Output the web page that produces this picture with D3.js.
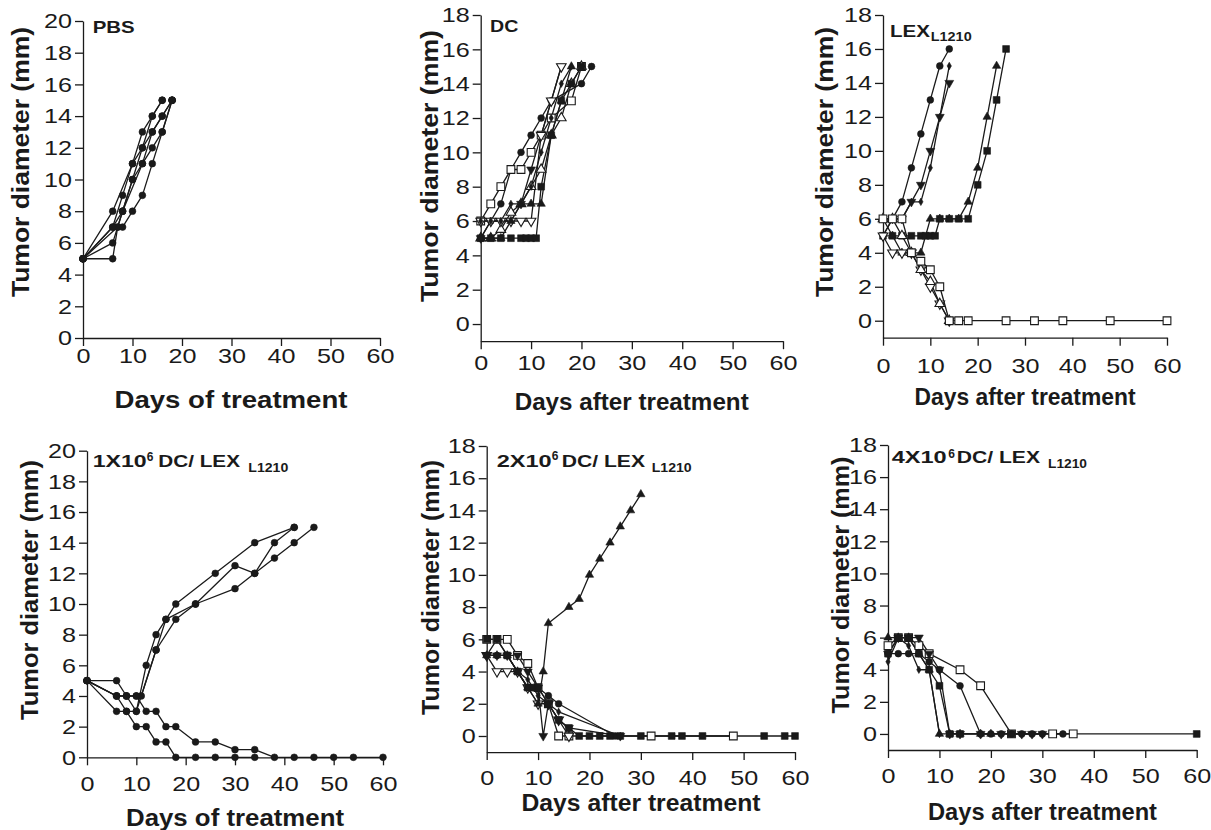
<!DOCTYPE html>
<html>
<head>
<meta charset="utf-8">
<script src="https://cdn.jsdelivr.net/npm/d3@7"></script>
<style>
  body { margin: 0; background: #fff; }
  svg { display: block; }
</style>
</head>
<body>
<svg id="chart" width="1211" height="830"></svg>
<script>
// ---- data: [day, tumor diameter mm] per mouse ----
const DAY_TICKS = [0, 10, 20, 30, 40, 50, 60];
const Y_TICKS_20 = [0, 2, 4, 6, 8, 10, 12, 14, 16, 18, 20];
const Y_TICKS_18 = [0, 2, 4, 6, 8, 10, 12, 14, 16, 18];

// PBS
const PBS_A = [[0,5],[6,8],[10,11],[12,13],[14,14],[16,15]];
const PBS_B = [[0,5],[6,7],[8,9],[10,11],[12,12],[14,14],[16,15]];
const PBS_C = [[0,5],[6,6],[8,8],[10,10],[12,12],[14,13],[16,14],[18,15]];
const PBS_D = [[0,5],[6,5],[7,7],[8,8],[12,11],[14,13],[16,14],[18,15]];
const PBS_E = [[0,5],[7,7],[8,7],[10,8],[12,9],[14,11],[16,13],[18,15]];
const PBS_F = [[0,5],[6,7],[8,8],[10,10],[12,11],[14,12],[16,13],[18,15]];

// DC
const DC_A = [[0,5],[2,6],[4,7],[6,9],[8,10],[10,11],[12,12],[14,13],[20,14],[22,15]];
const DC_B = [[0,6],[2,7],[4,8],[6,9],[8,9],[10,10],[12,11],[14,12],[18,13],[20,15]];
const DC_C = [[0,5],[2,6],[4,6],[6,6],[8,7],[10,9],[12,11],[14,13],[16,15]];
const DC_D = [[0,5],[2,5],[4,5.5],[6,6.5],[8,7],[10,8],[12,9],[14,11],[16,12],[18,14],[20,15]];
const DC_E = [[0,6],[2,6],[4,6],[6,6],[8,6],[10,6],[12,11],[14,13],[16,15]];
const DC_F = [[0,5],[2,5],[4,5],[6,5],[8,5],[9,5],[10,5],[11,5],[12,8],[14,11],[16,13],[18,14],[20,15]];
const DC_G = [[0,5],[2,5],[4,5],[6,6],[8,7],[10,7],[12,7],[14,11],[16,13],[18,15]];
const DC_H = [[0,6],[2,6],[4,6],[6,7],[8,7],[10,8],[12,10],[14,12],[16,14],[18,15]];

// LEX L1210
const LEX_A = [[0,6],[2,6],[4,7],[6,9],[8,11],[10,13],[12,15],[14,16]];
const LEX_B = [[0,5],[2,6],[4,6],[6,7],[8,7],[10,9],[12,12],[14,15]];
const LEX_C = [[0,5],[2,6],[4,6],[6,7],[8,8],[10,10],[12,12],[14,14]];
const LEX_D = [[0,5],[2,5],[4,5],[6,5],[8,5],[9,5],[10,5],[11,5],[12,6],[14,6],[16,6],[18,6],[20,8],[22,10],[24,13],[26,16]];
const LEX_E = [[0,6],[2,5],[4,4],[6,4],[8,4],[10,6],[12,6],[14,6],[16,6],[18,7],[20,9],[22,12],[24,15]];
const LEX_F = [[0,6],[2,6],[4,6],[6,4],[8,3.5],[10,3],[12,2],[14,0],[16,0],[18,0],[26,0],[32,0],[38,0],[48,0],[60,0]];
const LEX_G = [[0,5],[2,4],[4,4],[6,4],[8,3],[10,2],[12,1],[14,0]];
const LEX_H = [[0,6],[2,6],[4,5],[6,4],[8,3],[10,2.3],[12,1],[14,0]];

// 1X10^6 DC/LEX
const M1_G1 = [[0,5],[6,3],[8,3],[10,3],[12,6],[14,8],[16,9],[18,10],[26,12],[34,14],[42,15]];
const M1_G2 = [[0,5],[6,4],[8,4],[10,4],[11,4],[14,7],[16,9],[22,10],[30,12.5],[34,12],[38,14],[42,15]];
const M1_G3 = [[0,5],[6,4],[8,4],[10,3],[14,7],[18,9],[22,10],[30,11],[34,12],[38,13],[42,14],[46,15]];
const M1_D1 = [[0,5],[6,5],[8,4],[10,4],[12,3],[14,3],[16,2],[18,2],[22,1],[26,1],[30,0.5],[34,0.5],[38,0],[42,0],[46,0],[50,0],[54,0],[60,0]];
const M1_D2 = [[0,5],[6,4],[8,3],[10,2],[12,2],[14,1],[16,1],[18,0],[22,0],[26,0],[30,0],[34,0]];

// 2X10^6 DC/LEX
const M2_A = [[0,6],[2,6],[4,6],[6,5],[8,4.5],[10,3],[12,2],[14,0],[16,0],[32,0],[48,0]];
const M2_B = [[0,6],[2,6],[4,5],[6,4],[8,3],[9,3],[10,3],[12,2],[14,1],[16,0.5],[18,0],[20,0],[22,0],[24,0],[26,0],[30,0],[36,0],[38,0],[42,0],[54,0],[58,0],[60,0]];
const M2_C = [[0,5],[2,5],[4,5],[6,4],[8,3],[10,3],[12,2.5],[14,2],[25,0]];
const M2_D = [[0,5],[2,4],[4,4],[6,4],[8,3],[10,2],[12,2],[14,1],[16,0]];
const M2_E = [[0,5],[2,5],[4,5],[6,5],[8,4],[10,3],[11,0],[12,2],[14,1],[16,0.5],[26,0]];
const M2_F = [[0,5],[2,5],[4,5],[6,4],[8,3],[10,2],[11,4],[12,7],[16,8],[18,8.5],[20,10],[22,11],[24,12],[26,13],[28,14],[30,15]];
const M2_G = [[0,5],[2,6],[4,5],[6,4],[8,3.5],[10,2.5],[12,2],[14,1.5],[26,0]];

// 4X10^6 DC/LEX
const M4_A = [[0,5.5],[2,6],[4,6],[6,5.5],[8,5],[14,4],[18,3],[24,0],[32,0],[36,0]];
const M4_B = [[0,5],[2,5],[4,5],[6,5],[8,4.5],[10,4],[14,3],[18,0],[20,0],[22,0],[24,0],[26,0],[28,0],[30,0],[34,0]];
const M4_C = [[0,6],[2,6],[4,6],[6,5],[8,4],[10,0],[12,0],[14,0],[18,0],[20,0]];
const M4_D = [[0,5],[2,6],[4,6],[6,5],[8,4],[10,3],[12,0],[14,0],[24,0],[60,0]];
const M4_E = [[0,5],[2,6],[4,6],[6,6],[8,5],[10,4],[12,0],[14,0],[18,0],[22,0],[26,0],[28,0],[30,0]];
const M4_F = [[0,4.5],[2,6],[4,5.5],[6,4],[8,4],[10,0]];

// ---- layout ----
const FONT = "'Liberation Sans', Arial, Helvetica, sans-serif";
const INK = "#1a1a1a";

const panels = [
  {
    x0: 83, x1: 380, yDomain: [0, 20], yBottom: 338, yTop: 21, yTicks: Y_TICKS_20, xPad: 2,
    xTitle: "Days of treatment", xt: [231, 408, 233],
    yt: [29, 162, 270],
    label: [{ t: "PBS", x: 92.7, y: 33.3, fs: 17, w: 42 }],
    series: [[PBS_A,"circle"],[PBS_B,"circle"],[PBS_C,"circle"],[PBS_D,"circle"],[PBS_E,"circle"],[PBS_F,"circle"]]
  },
  {
    x0: 480.7, x1: 783, yDomain: [-1, 18], yBottom: 341.2, yTop: 15, yTicks: Y_TICKS_18, xPad: 5.5,
    xTitle: "Days after treatment", xt: [631.7, 410, 234],
    yt: [437.5, 166, 272],
    label: [{ t: "DC", x: 490, y: 32.3, fs: 17, w: 28.3 }],
    series: [[DC_A,"circle"],[DC_B,"openSquare"],[DC_C,"triDown"],[DC_D,"openTriUp"],[DC_E,"openTriDown"],[DC_F,"square"],[DC_G,"triUp"],[DC_H,"diamond"]]
  },
  {
    x0: 883, x1: 1167, yDomain: [-1, 18], yBottom: 337.7, yTop: 15, yTicks: Y_TICKS_18, xPad: 12,
    xTitle: "Days after treatment", xt: [1025, 405, 221],
    yt: [832.5, 162, 270],
    label: [{ t: "LEX", x: 890, y: 36.7, fs: 17, w: 40 }, { t: "L1210", x: 930.7, y: 40.7, fs: 12.5, w: 41 }],
    series: [[LEX_A,"circle"],[LEX_B,"diamond"],[LEX_C,"triDown"],[LEX_D,"square"],[LEX_E,"triUp"],[LEX_G,"openTriDown"],[LEX_H,"openTriUp"],[LEX_F,"openSquare"]]
  },
  {
    x0: 87, x1: 383, yDomain: [0, 20], yBottom: 757.3, yTop: 450.7, yTicks: Y_TICKS_20, xPad: 11,
    xTitle: "Days of treatment", xt: [235, 826, 218],
    yt: [37.5, 590, 260],
    label: [
      { t: "1X10", x: 92.7, y: 467.3, fs: 17, w: 54 },
      { t: "6", x: 146.7, y: 460.7, fs: 12, w: 6.7 },
      { t: "DC/ LEX", x: 158.3, y: 467.3, fs: 17, w: 81.7 },
      { t: "L1210", x: 248.3, y: 471.7, fs: 12, w: 40 }
    ],
    series: [[M1_G1,"circle"],[M1_G2,"circle"],[M1_G3,"circle"],[M1_D1,"circle"],[M1_D2,"circle"]]
  },
  {
    x0: 486.7, x1: 795, yDomain: [-1, 18], yBottom: 752.1, yTop: 446, yTicks: Y_TICKS_18, xPad: 10,
    xTitle: "Days after treatment", xt: [641, 811, 239],
    yt: [439, 587.5, 255],
    label: [
      { t: "2X10", x: 496.7, y: 467.3, fs: 17, w: 55 },
      { t: "6", x: 551.7, y: 460, fs: 12, w: 6.7 },
      { t: "DC/ LEX", x: 561.7, y: 467.3, fs: 17, w: 83.3 },
      { t: "L1210", x: 651.7, y: 471.7, fs: 12, w: 40 }
    ],
    series: [[M2_A,"openSquare"],[M2_C,"circle"],[M2_D,"openTriDown"],[M2_E,"triDown"],[M2_F,"triUp"],[M2_G,"diamond"],[M2_B,"square"]]
  },
  {
    x0: 888, x1: 1196.7, yDomain: [-1, 18], yBottom: 750, yTop: 445, yTicks: Y_TICKS_18, xPad: 10,
    xTitle: "Days after treatment", xt: [1042.5, 820, 229],
    yt: [849, 585, 257],
    label: [
      { t: "4X10", x: 891.7, y: 463.3, fs: 17, w: 55 },
      { t: "6", x: 948.3, y: 458.3, fs: 12, w: 6.7 },
      { t: "DC/ LEX", x: 956.7, y: 463.3, fs: 17, w: 83.3 },
      { t: "L1210", x: 1048, y: 468.3, fs: 12, w: 39 }
    ],
    series: [[M4_A,"openSquare"],[M4_B,"circle"],[M4_C,"triUp"],[M4_E,"triDown"],[M4_F,"diamond"],[M4_D,"square"]]
  }
];

const MARKERS = {
  circle:      { type: d3.symbolCircle,   size: 36, fill: INK, rot: 0 },
  square:      { type: d3.symbolSquare,   size: 46, fill: INK, rot: 0 },
  openSquare:  { type: d3.symbolSquare,   size: 60, fill: "#fff", rot: 0 },
  triUp:       { type: d3.symbolTriangle, size: 30, fill: INK, rot: 0 },
  openTriUp:   { type: d3.symbolTriangle, size: 40, fill: "#fff", rot: 0 },
  triDown:     { type: d3.symbolTriangle, size: 34, fill: INK, rot: 180 },
  openTriDown: { type: d3.symbolTriangle, size: 40, fill: "#fff", rot: 180 },
  diamond:     { type: d3.symbolDiamond,  size: 16, fill: INK, rot: 0 }
};

const svg = d3.select("#chart");
svg.append("rect").attr("width", 1211).attr("height", 830).attr("fill", "#fff");

function drawPanel(p) {
  const g = svg.append("g");
  const x = d3.scaleLinear().domain([0, 60]).range([p.x0, p.x1]);
  const y = d3.scaleLinear().domain(p.yDomain).range([p.yBottom, p.yBottom - (p.yBottom - p.yTop) * (p.yDomain[1] - p.yDomain[0]) / (p.yDomain[1] - p.yDomain[0])]);

  // axes
  const yAxis = g.append("g")
    .attr("transform", `translate(${p.x0},0)`)
    .call(d3.axisLeft(y).tickValues(p.yTicks).tickSize(8).tickPadding(3).tickSizeOuter(0));
  const xAxis = g.append("g")
    .attr("transform", `translate(0,${p.yBottom})`)
    .call(d3.axisBottom(x).tickValues(DAY_TICKS).tickSize(8).tickPadding(p.xPad).tickSizeOuter(0));

  [yAxis, xAxis].forEach((a) => {
    a.select(".domain").attr("stroke", INK).attr("stroke-width", 1.3);
    a.selectAll(".tick line").attr("stroke", INK).attr("stroke-width", 1.3);
    a.selectAll(".tick text")
      .attr("fill", INK)
      .attr("font-family", FONT)
      .attr("font-size", 21)
      .attr("textLength", (d) => String(d).length * 14)
      .attr("lengthAdjust", "spacingAndGlyphs");
  });

  // lines
  const line = d3.line().x((d) => x(d[0])).y((d) => y(d[1]));
  g.selectAll("path.trace")
    .data(p.series)
    .join("path")
    .attr("class", "trace")
    .attr("d", (s) => line(s[0]))
    .attr("fill", "none")
    .attr("stroke", INK)
    .attr("stroke-width", 1.3)
    .attr("stroke-linejoin", "round");

  // markers
  p.series.forEach(([pts, shape]) => {
    const m = MARKERS[shape];
    g.selectAll(null)
      .data(pts)
      .join("path")
      .attr("d", d3.symbol().type(m.type).size(m.size))
      .attr("transform", (d) => `translate(${x(d[0])},${y(d[1])}) rotate(${m.rot})`)
      .attr("fill", m.fill)
      .attr("stroke", INK)
      .attr("stroke-width", m.fill === "#fff" ? 1.1 : 0.6);
  });

  // axis titles
  g.append("text")
    .attr("x", p.xt[0]).attr("y", p.xt[1])
    .attr("text-anchor", "middle")
    .attr("font-family", FONT).attr("font-weight", "bold").attr("font-size", 24)
    .attr("fill", INK)
    .attr("textLength", p.xt[2]).attr("lengthAdjust", "spacingAndGlyphs")
    .text(p.xTitle);

  g.append("text")
    .attr("transform", `translate(${p.yt[0]},${p.yt[1]}) rotate(-90)`)
    .attr("text-anchor", "middle")
    .attr("font-family", FONT).attr("font-weight", "bold").attr("font-size", 24)
    .attr("fill", INK)
    .attr("textLength", p.yt[2]).attr("lengthAdjust", "spacingAndGlyphs")
    .text("Tumor diameter (mm)");

  // panel label
  p.label.forEach((l) => {
    g.append("text")
      .attr("x", l.x).attr("y", l.y)
      .attr("font-family", FONT).attr("font-weight", "bold").attr("font-size", l.fs)
      .attr("fill", INK)
      .attr("textLength", l.w).attr("lengthAdjust", "spacingAndGlyphs")
      .text(l.t);
  });
}

panels.forEach(drawPanel);
</script>
</body>
</html>
